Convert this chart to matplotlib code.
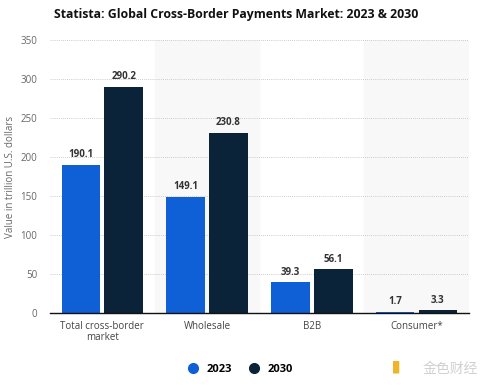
import matplotlib.pyplot as plt
import numpy as np

categories = ["Total cross-border\nmarket", "Wholesale", "B2B", "Consumer*"]
values_2023 = [190.1, 149.1, 39.3, 1.7]
values_2030 = [290.2, 230.8, 56.1, 3.3]
years = ["2023", "2030"]

blue = "#0f5fd6"
navy = "#0b2338"

plt.rcParams["font.family"] = ["Open Sans", "Noto Sans CJK SC", "DejaVu Sans"]

fig = plt.figure(figsize=(4.93, 3.89), dpi=100)
ax = fig.add_axes([0.1014, 0.1954, 0.8496, 0.7016])

x = np.arange(len(categories))
w = 0.37
gap = 0.02

for i in x:
    if i % 2 == 1:
        ax.axvspan(i - 0.5, i + 0.5, color="#f8f8f8", zorder=0)

b1 = ax.bar(x - w / 2 - gap, values_2023, w, color=blue, zorder=3, label=years[0])
b2 = ax.bar(x + w / 2 + gap, values_2030, w, color=navy, zorder=3, label=years[1])

for bars in (b1, b2):
    for r in bars:
        h = r.get_height()
        ax.text(r.get_x() + r.get_width() / 2, h + 6, f"{h:.1f}", ha="center", va="bottom",
                fontsize=7, fontweight="bold", color="#333333", zorder=4)

ax.set_xlim(-0.5, len(categories) - 0.5)
ax.set_ylim(0, 350)
ax.set_yticks(np.arange(0, 351, 50))
ax.set_xticks(x)
ax.set_xticklabels(categories, fontsize=7, color="#444444", linespacing=1.0)
ax.tick_params(axis="y", labelsize=7, colors="#666666", length=0, pad=9)
ax.tick_params(axis="x", length=0, pad=6)
ax.yaxis.grid(True, linestyle=(0, (1, 1.5)), color="#bbbbbb", linewidth=0.6, zorder=1)
for s in ("top", "right", "left"):
    ax.spines[s].set_visible(False)
ax.spines["bottom"].set_color("#111111")
ax.spines["bottom"].set_linewidth(1.0)
ax.spines["bottom"].set_zorder(5)
ax.set_ylabel("Value in trillion U.S. dollars", fontsize=7, color="#666666")
ax.yaxis.set_label_coords(-0.08, 0.5)

fig.text(0.478, 0.962, "Statista: Global Cross-Border Payments Market: 2023 & 2030",
         ha="center", va="center", fontsize=8.8, fontweight="bold", color="#111111")

handles = [plt.Line2D([], [], marker="o", linestyle="", markersize=7, color=c) for c in (blue, navy)]
fig.legend(handles, years, loc="center", bbox_to_anchor=(0.482, 0.051), ncol=2, frameon=False,
           prop={"weight": "bold", "size": 8}, handletextpad=0.2, columnspacing=1.0)

fig.text(0.81, 0.053, "\u258c", ha="center", va="center", fontsize=9, color="#f0b429")
fig.text(0.913, 0.051, "金色财经", ha="center", va="center", fontsize=10,
         color="#d0d0d0", family=["Noto Sans CJK SC", "DejaVu Sans"])

plt.savefig("out.png", dpi=100)
